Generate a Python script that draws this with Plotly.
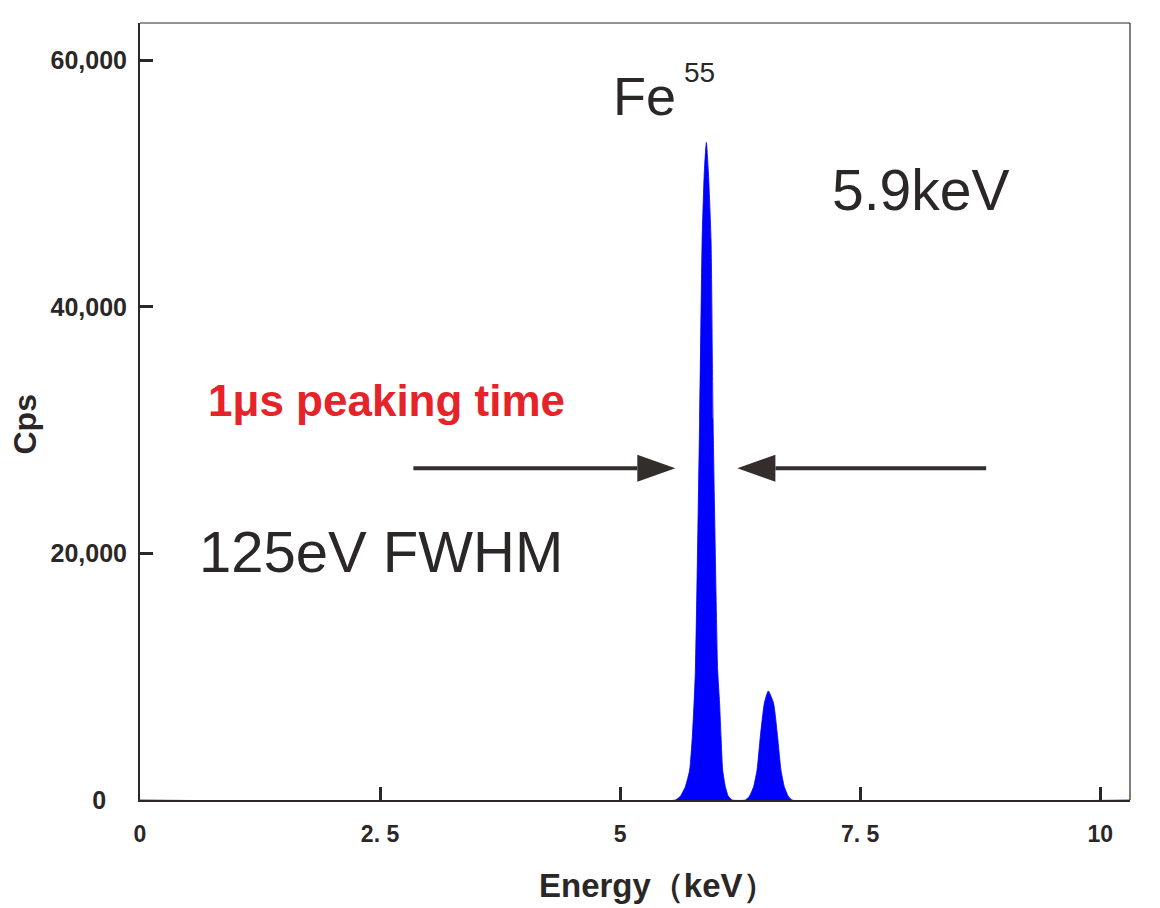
import plotly.graph_objects as go

# Fe55 spectrum (keV, counts per second)
energy_kev = [0.0, 5.575, 5.627, 5.679, 5.724, 5.752, 5.770, 5.784, 5.828, 5.854,
              5.877, 5.898, 5.919, 5.947, 5.968, 6.016, 6.036, 6.051, 6.068, 6.096,
              6.127, 6.166, 6.305, 6.346, 6.390, 6.426, 6.460, 6.502, 6.543, 6.598,
              6.640, 6.675, 6.710, 6.752, 6.790, 10.31]
cps = [0, 0, 300, 1080, 2430, 5140, 7850, 10550, 30840, 45400,
       51000, 53350, 51000, 45400, 30840, 10550, 7850, 5140, 2430, 1080,
       300, 0, 0, 300, 1080, 2430, 5140, 7850, 8850, 7850,
       5140, 2430, 1080, 300, 0, 0]

x_ticks = [0, 2.5, 5, 7.5, 10]
x_labels = ["0", "2. 5", "5", "7. 5", "10"]
y_ticks = [0, 20000, 40000, 60000]
y_labels = ["0\u2007\u00a0", "20,000", "40,000", "60,000"]

# arrows pointing at the peak (x from, x tip) and their height
arrow_left = [2.847, 5.575]
arrow_right = [8.812, 6.221]
arrow_y = 26920

ink = "#2b2727"
font = "Liberation Sans, Arial, sans-serif"

fig = go.Figure()
fig.add_trace(go.Scatter(x=energy_kev, y=cps, mode="lines", fill="tozeroy",
                         fillcolor="#0000ff",
                         line=dict(color="#0000ff", width=0.8, shape="spline", smoothing=0.5),
                         hoverinfo="skip"))

axis_style = dict(showgrid=False, zeroline=False, showline=True, linecolor=ink,
                  linewidth=2, ticks="inside", ticklen=13, tickwidth=2.5,
                  tickcolor=ink)
fig.update_xaxes(range=[0, 10.31], tickvals=x_ticks, ticktext=x_labels,
                 ticklabelstandoff=12,
                 tickfont=dict(family=font, size=23, color=ink, weight="bold"), **axis_style)
fig.update_yaxes(range=[0, 63040], tickvals=y_ticks, ticktext=y_labels,
                 ticklabelstandoff=6,
                 tickfont=dict(family=font, size=25, color=ink, weight="bold"), **axis_style)

# thin frame on top and right
fig.add_shape(type="line", xref="paper", yref="paper", x0=0, x1=1, y0=1, y1=1,
              line=dict(color=ink, width=1))
fig.add_shape(type="line", xref="paper", yref="paper", x0=1, x1=1, y0=0, y1=1,
              line=dict(color=ink, width=1.2))

head_len, head_half = 0.396, 1096
arrow_ink = "#332e2c"
for start, tip in (arrow_left, arrow_right):
    d = 1 if tip > start else -1
    back = tip - d * head_len
    fig.add_shape(type="line", x0=start, x1=back, y0=arrow_y, y1=arrow_y,
                  line=dict(color=arrow_ink, width=4))
    fig.add_shape(type="path", line=dict(width=0), fillcolor=arrow_ink,
                  path=f"M {tip},{arrow_y} L {back},{arrow_y + head_half} "
                       f"L {back},{arrow_y - head_half} Z")

def label(text, x, y, size, color=ink, weight="normal"):
    fig.add_annotation(text=text, x=x, y=y, xref="x", yref="y", xanchor="left",
                       yanchor="middle", showarrow=False,
                       font=dict(family=font, size=size, color=color, weight=weight))

label("Fe", 4.909, 57120, 54)
label("55", 5.648, 59010, 28)
label("5.9keV", 7.186, 49460, 57)
label("1\u03bcs peaking time", 0.69, 32400, 44, "#e52329", "bold")
label("125eV FWHM", 0.596, 20190, 58)

# axis titles
fig.add_annotation(text="Energy\uff08keV\uff09", xref="paper", yref="paper",
                   x=0.5225, y=-0.1094, xanchor="center", yanchor="middle",
                   showarrow=False, font=dict(family=font, size=33, color=ink, weight="bold"))
fig.add_annotation(text="Cps", xref="paper", yref="paper", x=-0.1165, y=0.4828,
                   xanchor="center", yanchor="middle", textangle=-90, showarrow=False,
                   font=dict(family=font, size=32, color=ink, weight="bold"))

# page body adds 8px, so margins are shifted to keep the plot area in place
fig.update_layout(width=1160, height=908, margin=dict(l=132, r=38, t=15, b=116),
                  plot_bgcolor="white", paper_bgcolor="white", showlegend=False)

fig.write_html("out.html")
